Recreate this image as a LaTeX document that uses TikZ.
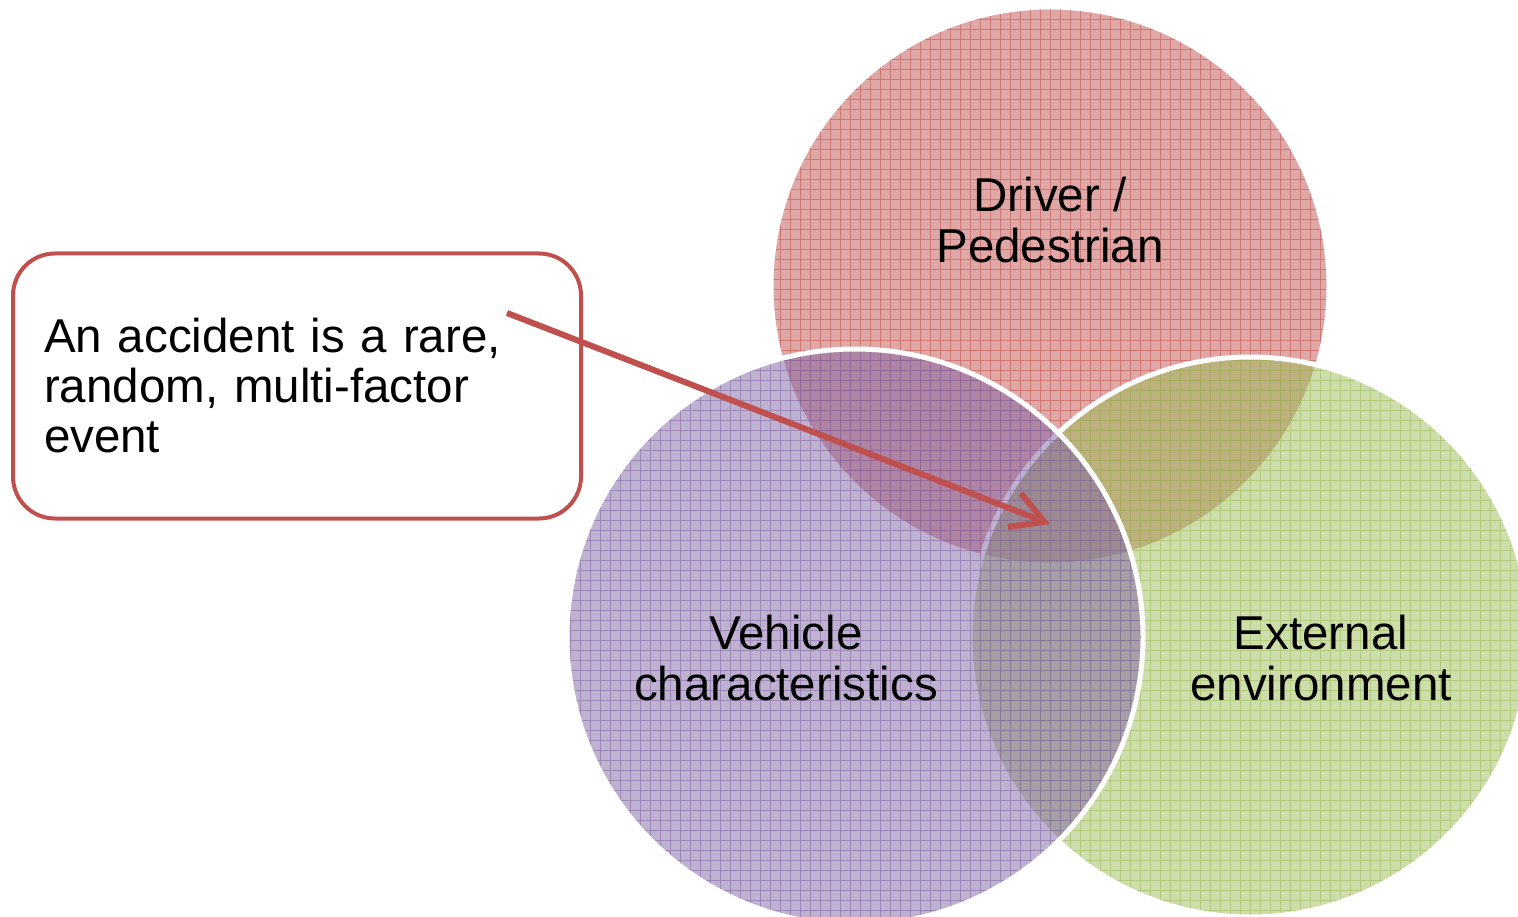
\documentclass[tikz,border=0pt]{standalone}
\usepackage{fontspec}
\setmainfont{Liberation Sans}
\usetikzlibrary{arrows.meta}
\definecolor{accred}{HTML}{C0504D}
\definecolor{accpurple}{HTML}{8064A2}
\definecolor{accgreen}{HTML}{9BBB59}

\begin{document}
\begin{tikzpicture}[x=1pt, y=-1pt,
  mesh/.style={draw=#1, draw opacity=0.55, line width=1pt},
  rim/.style={draw=white, line width=5pt},
  caption/.style={font=\fontsize{47.5}{51}\selectfont, align=center, text=black},
  note/.style={draw=accred, line width=4pt, rounded corners=42pt,
    minimum width=568pt, minimum height=265pt, inner xsep=31pt,
    text width=506pt, align=left, font=\fontsize{47.5}{50}\selectfont},
  pointer/.style={draw=accred, line width=6pt,
    -{Straight Barb[length=32pt, width=36pt]}}]

\newcommand\vennring[3]{%
\fill[#3, fill opacity=0.5] #1 circle (#2);
\begin{scope}
\clip #1 circle (#2);
\draw[mesh=#3, step=10pt] (0,0) grid (1530,930);
\end{scope}
\draw[rim] #1 circle (#2);}

\useasboundingbox (0,0) rectangle (1518,917); %% page

\vennring{(1050,286)}{279pt}{accred}
\vennring{(1250,637)}{280pt}{accgreen}
\vennring{(855,637)}{288pt}{accpurple}

\node[caption] (driver) at (1050,220) {Driver /\\Pedestrian};
\node[caption] (vehicle) at (786,658) {Vehicle\\characteristics};
\node[caption] (outside) at (1321,658) {External\\environment};

\node[note] (note) at (297,386) {An accident is a rare,\\random, multi-factor\\event};

\coordinate (tail) at (507,313);
\coordinate (hit) at (1050,524);
\draw[pointer] (tail) -- (hit);

\end{tikzpicture}
\end{document}
